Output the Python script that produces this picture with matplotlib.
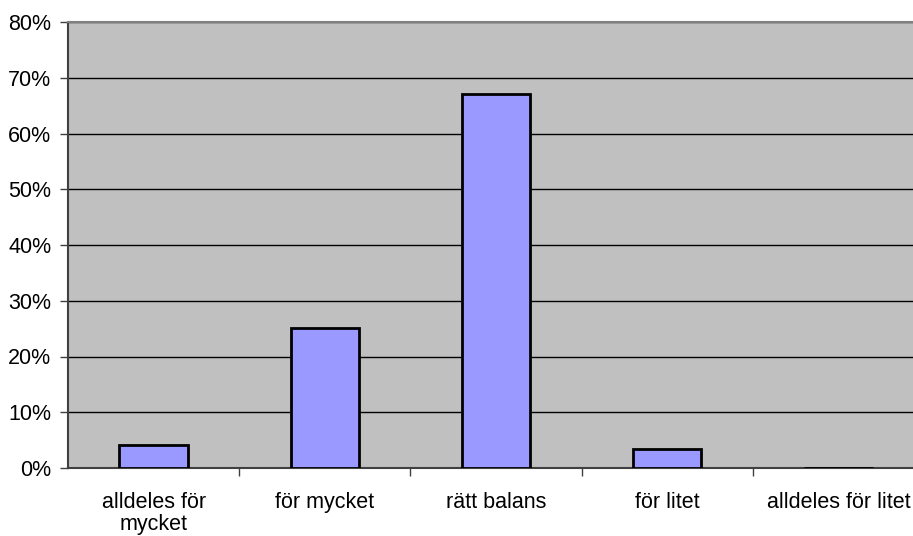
import matplotlib.pyplot as plt
from matplotlib.ticker import FixedLocator, PercentFormatter

categories = ["alldeles för\nmycket", "för mycket", "rätt balans", "för litet", "alldeles för litet"]
values = [4.1, 25.2, 67.1, 3.4, 0.0]
yticks = [0, 10, 20, 30, 40, 50, 60, 70, 80]

plt.rcParams["font.family"] = ["Liberation Sans", "DejaVu Sans"]

fig = plt.figure(figsize=(9.13, 5.36), dpi=100)
# plot area runs a little past the right edge of the picture, as in the original
ax = fig.add_axes([68 / 913, 1 - 468 / 536, 856 / 913, (468 - 22) / 536])

ax.set_facecolor("#C0C0C0")
x = list(range(len(categories)))
ax.bar(x, values, width=0.4, color="#9999FF", edgecolor="black", linewidth=2, zorder=3)

ax.set_xlim(-0.5, len(categories) - 0.5)
ax.set_ylim(0, 80)
ax.set_yticks(yticks)
ax.yaxis.set_major_formatter(PercentFormatter(decimals=0))
ax.yaxis.grid(True, color="black", linewidth=1, zorder=1)
ax.set_axisbelow(True)

# category labels centered, ticks between categories
ax.set_xticks(x)
ax.set_xticklabels(categories, linespacing=1.1)
ax.tick_params(axis="x", which="major", length=0, pad=17, labelsize=15.5)
ax.xaxis.set_minor_locator(FixedLocator([i + 0.5 for i in x[:-1]]))
ax.tick_params(axis="x", which="minor", length=6, width=1, color="#404040")
ax.tick_params(axis="y", length=6, width=1, color="#404040", labelsize=15.5, pad=6)

for side in ["left", "bottom"]:
    ax.spines[side].set_color("#404040")
    ax.spines[side].set_linewidth(1.5)
ax.spines["top"].set_color("#808080")
ax.spines["top"].set_linewidth(1.5)
ax.spines["right"].set_visible(False)

fig.savefig("out.png", dpi=100)
plt.close(fig)
